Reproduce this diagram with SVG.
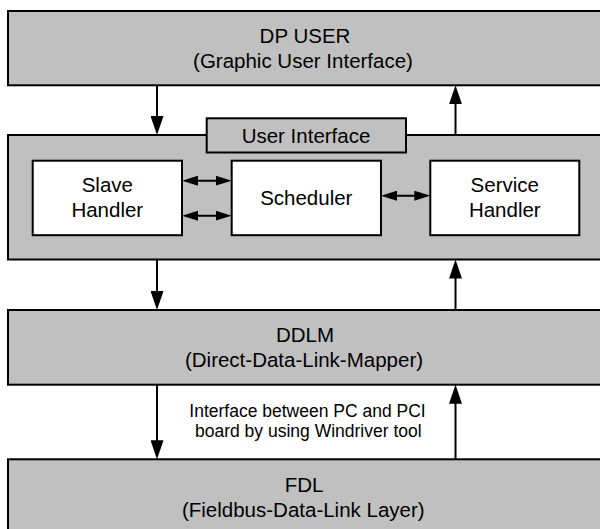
<svg xmlns="http://www.w3.org/2000/svg" width="600" height="529" viewBox="0 0 600 529">
<style>
.layer{fill:#c0c0c0;stroke:#000;stroke-width:2}
.inner{fill:#fff;stroke:#000;stroke-width:2}
.t{font-family:"Liberation Sans",Arial,sans-serif;font-size:20.5px;fill:#000;text-anchor:middle}
.s{font-family:"Liberation Sans",Arial,sans-serif;font-size:17.5px;fill:#000;text-anchor:middle}
.c{stroke:#000;stroke-width:2;fill:none}
.v{marker-end:url(#big)}
.h{marker-start:url(#small);marker-end:url(#small)}
</style>
<defs>
<marker id="big" markerUnits="userSpaceOnUse" markerWidth="19" markerHeight="13" refX="9" refY="6.5" orient="auto" viewBox="0 0 19 13">
<path d="M0,0 L19,6.5 L0,13 z" fill="#000"/>
</marker>
<marker id="small" markerUnits="userSpaceOnUse" markerWidth="16" markerHeight="10" refX="8" refY="5" orient="auto-start-reverse" viewBox="0 0 16 10">
<path d="M0,0 L16,5 L0,10 z" fill="#000"/>
</marker>
</defs>
<g id="dp-user">
<rect class="layer" x="8" y="11" width="600" height="74.3"/>
<text class="t" x="305" y="42.7">DP USER</text>
<text class="t" x="303" y="68.3">(Graphic User Interface)</text>
</g>
<g id="core">
<rect class="layer" x="8" y="135" width="600" height="124.5"/>
</g>
<g id="user-interface">
<rect class="layer" x="206.7" y="118.3" width="199.3" height="34.2"/>
<text class="t" x="306" y="142.7">User Interface</text>
</g>
<g id="slave-handler">
<rect class="inner" x="32.7" y="160.7" width="149.3" height="74.5"/>
<text class="t" x="107.3" y="192.3">Slave</text>
<text class="t" x="107.3" y="216.7">Handler</text>
</g>
<g id="scheduler">
<rect class="inner" x="231.7" y="160.7" width="149.3" height="74.5"/>
<text class="t" x="306.3" y="204.6">Scheduler</text>
</g>
<g id="service-handler">
<rect class="inner" x="430.3" y="160.7" width="149" height="74.5"/>
<text class="t" x="504.8" y="192.3">Service</text>
<text class="t" x="504.8" y="216.7">Handler</text>
</g>
<g id="ddlm">
<rect class="layer" x="8" y="310" width="600" height="74.7"/>
<text class="t" x="305" y="341.7">DDLM</text>
<text class="t" x="304" y="367.3">(Direct-Data-Link-Mapper)</text>
</g>
<g id="fdl">
<rect class="layer" x="8" y="459.3" width="600" height="76"/>
<text class="t" x="304" y="491.7">FDL</text>
<text class="t" x="303.3" y="516.7">(Fieldbus-Data-Link Layer)</text>
</g>
<g id="connectors">
<line class="c v" x1="157" y1="85.3" x2="157" y2="125"/>
<line class="c v" x1="455.5" y1="135" x2="455.5" y2="95.3"/>
<line class="c v" x1="157" y1="259.5" x2="157" y2="300"/>
<line class="c v" x1="455.5" y1="310" x2="455.5" y2="269.5"/>
<line class="c v" x1="157" y1="384.7" x2="157" y2="449.3"/>
<line class="c v" x1="455.5" y1="459.3" x2="455.5" y2="394.7"/>
<line class="c h" x1="190" y1="180.7" x2="223.7" y2="180.7"/>
<line class="c h" x1="190" y1="215.7" x2="223.7" y2="215.7"/>
<line class="c h" x1="389" y1="195.7" x2="422.3" y2="195.7"/>
<text class="s" x="307.5" y="416.7">Interface between PC and PCI</text>
<text class="s" x="308.3" y="437.3">board by using Windriver tool</text>
</g>
</svg>
